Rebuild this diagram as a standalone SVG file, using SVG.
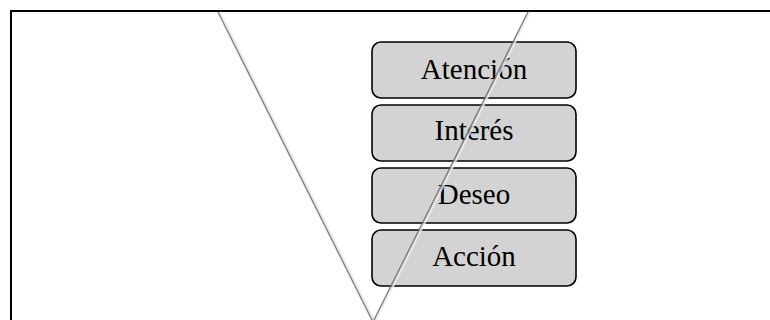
<svg xmlns="http://www.w3.org/2000/svg" width="770" height="320" viewBox="0 0 770 320">
  <style>
    .frame { fill: none; stroke: #000; stroke-width: 2; }
    .stage rect { fill: #d3d3d3; stroke: #000; stroke-width: 1.6; }
    .stage text { font-family: "Liberation Serif", "Times New Roman", serif; font-size: 29px; fill: #000; text-anchor: middle; }
    .funnel-shade { stroke: #ececec; stroke-width: 2.5; fill: none; opacity: 0.8; }
    .funnel-line { stroke: #707070; stroke-width: 1.5; fill: none; opacity: 0.85; }
  </style>

  <rect width="770" height="320" fill="#fff"/>

  <!-- outer frame: top and left edges only -->
  <path class="frame" d="M11 320 V11 H770"/>

  <!-- funnel stages -->
  <g id="atencion" class="stage">
    <rect x="372" y="42" width="204" height="56" rx="9"/>
    <text x="474" y="78.5">Atención</text>
  </g>
  <g id="interes" class="stage">
    <rect x="372" y="105" width="204" height="56" rx="9"/>
    <text x="474" y="140">Interés</text>
  </g>
  <g id="deseo" class="stage">
    <rect x="372" y="168" width="204" height="55" rx="9"/>
    <text x="474" y="203.5">Deseo</text>
  </g>
  <g id="accion" class="stage">
    <rect x="372" y="230" width="204" height="56" rx="9"/>
    <text x="474" y="266">Acción</text>
  </g>

  <!-- funnel outline drawn over the stages -->
  <g id="funnel">
    <path class="funnel-shade" d="M220 12 L375 322 L530 12"/>
    <path class="funnel-line" d="M218 12 L373 322 L528 12"/>
  </g>
</svg>
